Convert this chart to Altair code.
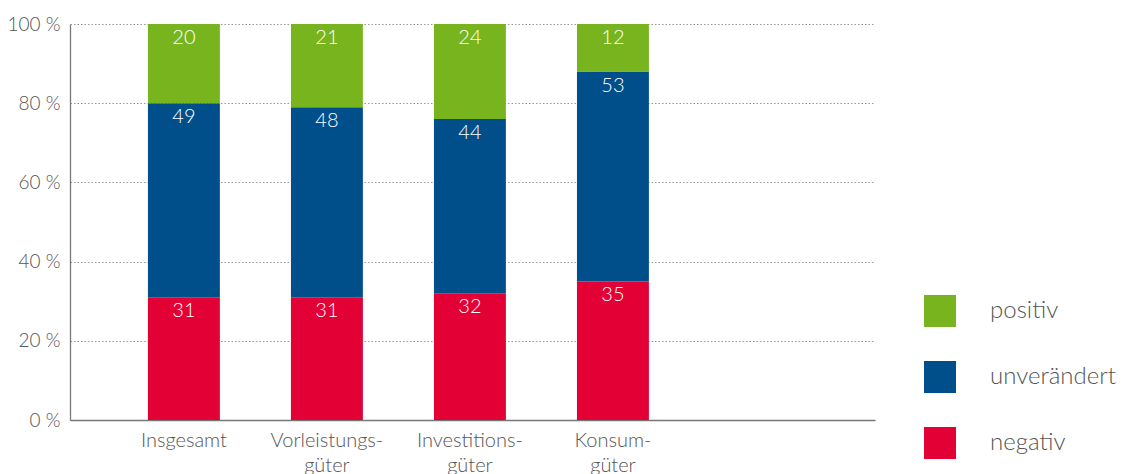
import altair as alt
import pandas as pd

categories = ["Insgesamt", "Vorleistungs-\ngüter", "Investitions-\ngüter", "Konsum-\ngüter"]
series = ["positiv", "unverändert", "negativ"]
negativ = [31, 31, 32, 35]
unveraendert = [49, 48, 44, 53]
positiv = [20, 21, 24, 12]

rows = []
for i, c in enumerate(categories):
    rows.append({"cat": c, "series": "negativ", "value": negativ[i], "rank": 1})
    rows.append({"cat": c, "series": "unverändert", "value": unveraendert[i], "rank": 2})
    rows.append({"cat": c, "series": "positiv", "value": positiv[i], "rank": 3})
df = pd.DataFrame(rows)

FONT = "Lato"
colors = ["#77B41D", "#004F8B", "#E20035"]
xdomain = categories + [" "]

base = alt.Chart(df).transform_stack(
    stack="value", groupby=["cat"], as_=["y0", "y1"],
    sort=[alt.SortField("rank", order="ascending")]
)

xscale = alt.Scale(domain=xdomain, paddingInner=0.497, paddingOuter=0.563, align=0.484)

xenc = alt.X("cat:N", title=None, scale=xscale,
             axis=alt.Axis(labelExpr="split(datum.label, '\\n')", labelAngle=0,
                           ticks=False, domain=True, domainColor="#777", domainWidth=1.3,
                           labelFont=FONT, labelFontSize=20, labelFontWeight=300,
                           labelColor="#555", labelPadding=10, labelLineHeight=25,
                           grid=False))

bars = base.mark_bar().encode(
    x=xenc,
    y=alt.Y("y0:Q", scale=alt.Scale(domain=[0, 100], nice=False), title=None,
            axis=alt.Axis(values=[0, 20, 40, 60, 80, 100], labelExpr="datum.value + ' %'",
                          ticks=False, domainColor="#777", domainWidth=1.3,
                          labelFont=FONT, labelFontSize=19, labelFontWeight=300,
                          labelColor="#555", labelPadding=10,
                          grid=True, gridColor="#999", gridDash=[1.5, 2], gridWidth=1)),
    y2="y1:Q",
    color=alt.Color("series:N", scale=alt.Scale(domain=series, range=colors),
                    legend=alt.Legend(title=None, orient="none", legendX=854, legendY=271,
                                      symbolType="square", symbolSize=1024,
                                      symbolStrokeWidth=0, symbolOpacity=1,
                                      labelFont=FONT, labelFontSize=24, labelFontWeight=300,
                                      labelColor="#555", labelOffset=34, rowPadding=34)),
)

labels = base.mark_text(color="white", font=FONT, fontSize=20, fontWeight=300,
                        baseline="top", dy=4).encode(
    x=alt.X("cat:N", scale=xscale),
    y="y1:Q",
    text="value:Q",
)

chart = alt.layer(bars, labels).properties(
    width=805, height=396,
    autosize=alt.AutoSizeParams(type="none"),
    padding={"left": 62, "top": 16, "right": 241, "bottom": 54},
).configure_view(stroke=None).configure_axisX(grid=False)

chart.save("out.html", embed_options={"renderer": "svg", "actions": False})
